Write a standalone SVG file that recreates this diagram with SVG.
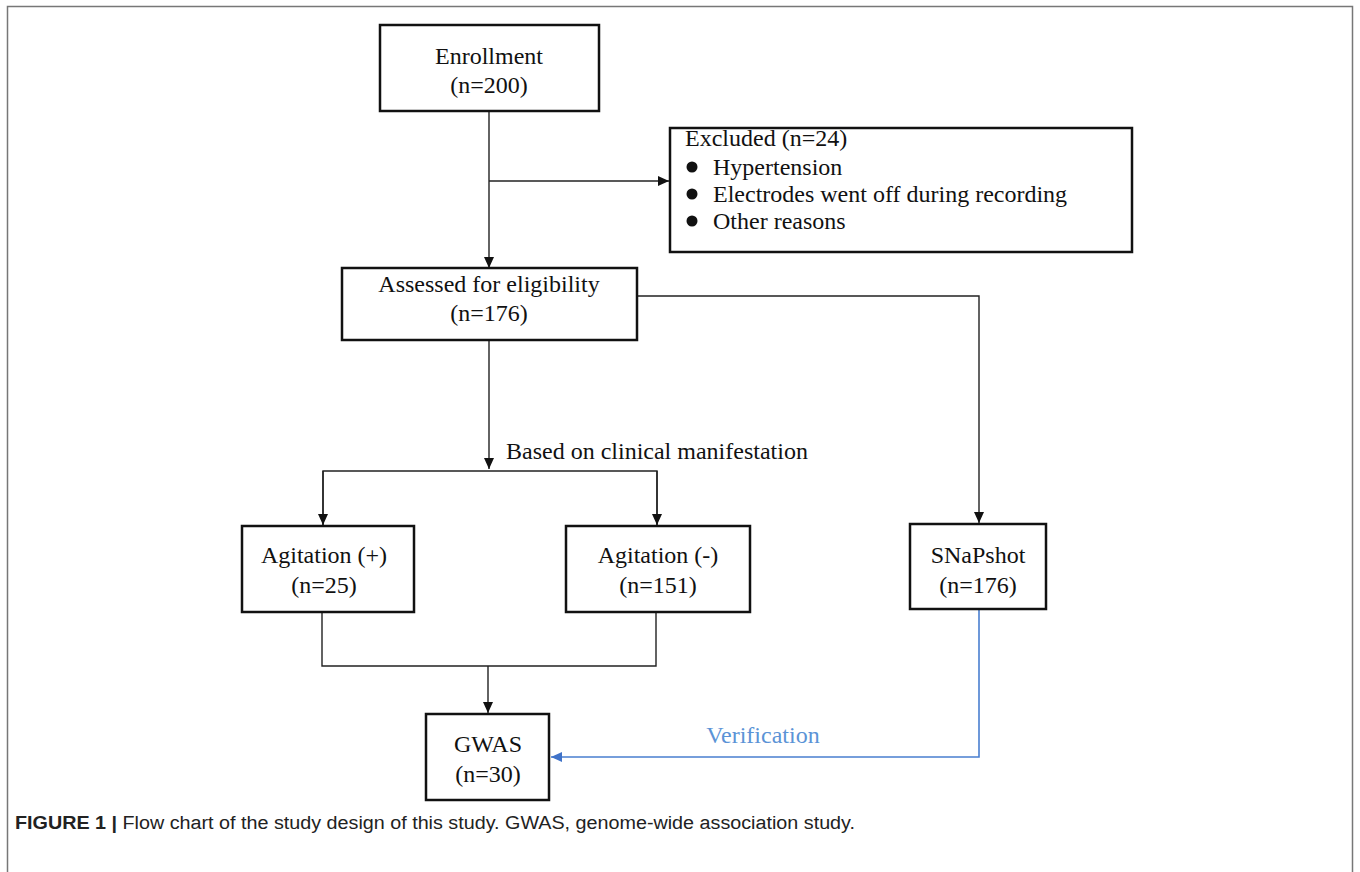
<svg xmlns="http://www.w3.org/2000/svg" width="1360" height="872" viewBox="0 0 1360 872">
<style>
.box{fill:#fff;stroke:#111;stroke-width:2.5}
.t{font-family:"Liberation Serif","Times New Roman",serif;font-size:24px;fill:#111}
.c{text-anchor:middle}
.ln{fill:none;stroke:#222;stroke-width:1.4}
.bl{fill:none;stroke:#4a7fd0;stroke-width:1.6}
.cap{font-family:"Liberation Sans",Arial,sans-serif;font-size:18px;fill:#222}
</style>
<defs>
<marker id="ah" markerWidth="12" markerHeight="12" refX="11" refY="5" orient="auto" markerUnits="userSpaceOnUse">
<path d="M0,0 L11,5 L0,10 Z" fill="#111"/>
</marker>
<marker id="ahb" markerWidth="12" markerHeight="12" refX="11" refY="5" orient="auto" markerUnits="userSpaceOnUse">
<path d="M0,0 L11,5 L0,10 Z" fill="#3f72c8"/>
</marker>
</defs>
<rect width="1360" height="872" fill="#fff"/>
<path d="M7.5,872 V6.5 H1352.5 V872" fill="none" stroke="#777" stroke-width="1.5"/>

<g id="connectors">
<path class="ln" d="M489,111 V268" marker-end="url(#ah)"/>
<path class="ln" d="M489,181 H669" marker-end="url(#ah)"/>
<path class="ln" d="M637,296 H979 V523" marker-end="url(#ah)"/>
<path class="ln" d="M489,340 V469" marker-end="url(#ah)"/>
<path class="ln" d="M323,525 V471 H657 V525" />
<path class="ln" d="M323,471 V525" marker-end="url(#ah)"/>
<path class="ln" d="M657,471 V525" marker-end="url(#ah)"/>
<path class="ln" d="M322,612 V666 H656 V612"/>
<path class="ln" d="M488,666 V713" marker-end="url(#ah)"/>
<path class="bl" d="M979,609 V757 H551" marker-end="url(#ahb)"/>
<text class="t" x="506" y="459">Based on clinical manifestation</text>
<text class="t c" x="763" y="743" style="fill:#5b93d6">Verification</text>
</g>

<g id="enrollment">
<rect class="box" x="380" y="25" width="219" height="86"/>
<text class="t c" x="489" y="64">Enrollment</text>
<text class="t c" x="489" y="93">(n=200)</text>
</g>

<g id="excluded">
<rect class="box" x="670" y="128" width="462" height="124"/>
<text class="t" x="685" y="146">Excluded (n=24)</text>
<circle cx="692" cy="167" r="5.5" fill="#111"/>
<text class="t" x="713" y="175">Hypertension</text>
<circle cx="692" cy="194" r="5.5" fill="#111"/>
<text class="t" x="713" y="202">Electrodes went off during recording</text>
<circle cx="692" cy="221" r="5.5" fill="#111"/>
<text class="t" x="713" y="229">Other reasons</text>
</g>

<g id="assessed">
<rect class="box" x="342" y="268" width="295" height="72"/>
<text class="t c" x="489" y="292">Assessed for eligibility</text>
<text class="t c" x="489" y="321">(n=176)</text>
</g>

<g id="agitation-pos">
<rect class="box" x="242" y="526" width="172" height="86"/>
<text class="t c" x="324" y="563">Agitation (+)</text>
<text class="t c" x="324" y="593">(n=25)</text>
</g>

<g id="agitation-neg">
<rect class="box" x="566" y="526" width="184" height="86"/>
<text class="t c" x="658" y="563">Agitation (-)</text>
<text class="t c" x="658" y="593">(n=151)</text>
</g>

<g id="snapshot">
<rect class="box" x="910" y="524" width="136" height="85"/>
<text class="t c" x="978" y="563">SNaPshot</text>
<text class="t c" x="978" y="593">(n=176)</text>
</g>

<g id="gwas">
<rect class="box" x="426" y="714" width="123" height="86"/>
<text class="t c" x="488" y="752">GWAS</text>
<text class="t c" x="488" y="782">(n=30)</text>
</g>

<text class="cap" x="15" y="829" textLength="840" lengthAdjust="spacingAndGlyphs"><tspan font-weight="bold">FIGURE 1 |</tspan> Flow chart of the study design of this study. GWAS, genome-wide association study.</text>
</svg>
